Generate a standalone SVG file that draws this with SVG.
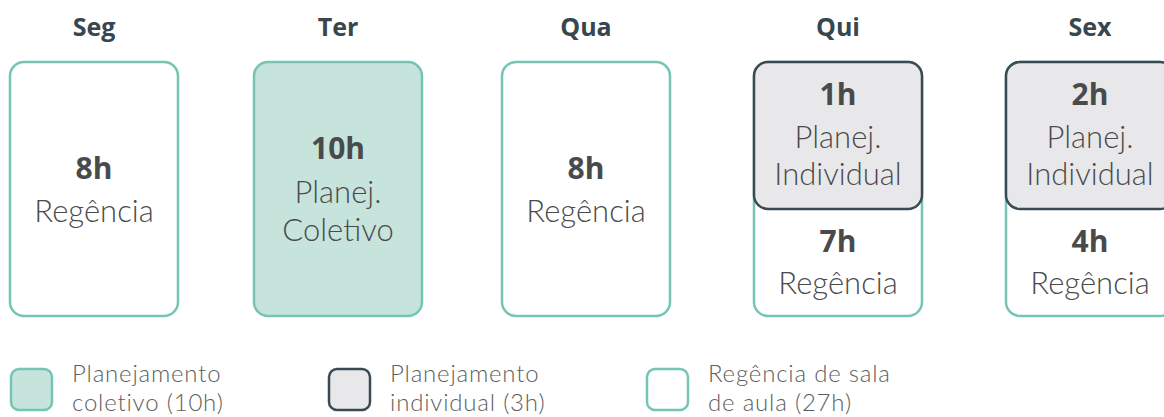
<svg xmlns="http://www.w3.org/2000/svg" width="1164" height="417" viewBox="0 0 1164 417">
<style>
.title{font-family:"Open Sans","Noto Sans",sans-serif;font-weight:700;font-size:25px;fill:#37474f;text-anchor:middle}
.num{font-family:"Open Sans","Noto Sans",sans-serif;font-weight:700;font-size:30px;fill:#4a4a4a;text-anchor:middle}
.lbl{font-family:"Lato","Open Sans",sans-serif;font-weight:300;font-size:31px;fill:#4a4a4a;text-anchor:middle}
.leg{font-family:"Lato","Open Sans",sans-serif;font-weight:300;font-size:24px;letter-spacing:0.8px;fill:#5e5e5e}
.reg{fill:#ffffff;stroke:#74c5b3;stroke-width:2.5}
.col{fill:#c6e3dc;stroke:#74c5b3;stroke-width:2.5}
.ind{fill:#e8e8ea;stroke:#3b4a52;stroke-width:2.5}
</style>
<g id="seg">
<text class="title" x="94" y="36">Seg</text>
<rect class="reg" x="10" y="62" width="168" height="254" rx="14"/>
<text class="num" x="94" y="179">8h</text>
<text class="lbl" x="94" y="222">Regência</text>
</g>
<g id="ter">
<text class="title" x="338" y="36">Ter</text>
<rect class="col" x="254" y="62" width="168" height="254" rx="14"/>
<text class="num" x="338" y="159">10h</text>
<text class="lbl" x="338" y="203">Planej.</text>
<text class="lbl" x="338" y="241">Coletivo</text>
</g>
<g id="qua">
<text class="title" x="586" y="36">Qua</text>
<rect class="reg" x="502" y="62" width="168" height="254" rx="14"/>
<text class="num" x="586" y="179">8h</text>
<text class="lbl" x="586" y="222">Regência</text>
</g>
<g id="qui">
<text class="title" x="838" y="36">Qui</text>
<rect class="reg" x="754" y="62" width="168" height="254" rx="14"/>
<rect class="ind" x="754" y="62" width="168" height="147" rx="14"/>
<text class="num" x="838" y="105">1h</text>
<text class="lbl" x="838" y="148">Planej.</text>
<text class="lbl" x="838" y="185">Individual</text>
<text class="num" x="838" y="252">7h</text>
<text class="lbl" x="838" y="294">Regência</text>
</g>
<g id="sex">
<text class="title" x="1090" y="36">Sex</text>
<rect class="reg" x="1006" y="62" width="168" height="254" rx="14"/>
<rect class="ind" x="1006" y="62" width="168" height="147" rx="14"/>
<text class="num" x="1090" y="105">2h</text>
<text class="lbl" x="1090" y="148">Planej.</text>
<text class="lbl" x="1090" y="185">Individual</text>
<text class="num" x="1090" y="252">4h</text>
<text class="lbl" x="1090" y="294">Regência</text>
</g>
<g id="legend">
<rect class="col" x="11" y="369" width="41" height="41" rx="8"/>
<text class="leg" x="72" y="382">Planejamento</text>
<text class="leg" x="72" y="411">coletivo (10h)</text>
<rect class="ind" x="329" y="369" width="41" height="41" rx="8"/>
<text class="leg" x="390" y="382">Planejamento</text>
<text class="leg" x="390" y="411">individual (3h)</text>
<rect class="reg" x="647" y="369" width="41" height="41" rx="8"/>
<text class="leg" x="708" y="382">Regência de sala</text>
<text class="leg" x="708" y="411">de aula (27h)</text>
</g>
<g id="connectors"></g>
</svg>
